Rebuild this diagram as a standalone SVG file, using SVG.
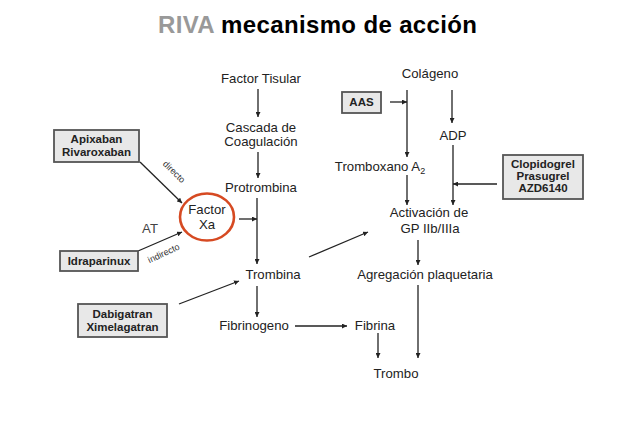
<svg xmlns="http://www.w3.org/2000/svg" width="638" height="426" viewBox="0 0 638 426">
<defs>
<marker id="ah" viewBox="0 0 10 10" refX="10" refY="5" markerWidth="5" markerHeight="5" orient="auto" markerUnits="userSpaceOnUse">
<path d="M0,0 L10,5 L0,10 z" fill="#222"/>
</marker>
</defs>
<style>
.t{font-family:"Liberation Sans",Arial,sans-serif;font-size:13.2px;fill:#222;text-anchor:middle}
.b{font-family:"Liberation Sans",Arial,sans-serif;font-size:11.5px;font-weight:bold;fill:#222;text-anchor:middle}
.s{font-family:"Liberation Sans",Arial,sans-serif;font-size:9px;fill:#333;text-anchor:middle}
.box{fill:#e8e8e8;stroke:#555;stroke-width:1.8}
.c line,.c path{stroke:#222;stroke-width:1.3;fill:none}
.a{marker-end:url(#ah)}
</style>
<rect width="638" height="426" fill="#fff"/>
<text x="158" y="33" font-family="Liberation Sans,Arial,sans-serif" font-size="24" font-weight="bold" fill="#000" textLength="319" lengthAdjust="spacing"><tspan fill="#999">RIVA</tspan> mecanismo de acción</text>

<g class="c" id="connectors">
<line class="a" x1="258" y1="89" x2="258" y2="117"/>
<line class="a" x1="258" y1="152" x2="258" y2="178"/>
<line class="a" x1="257" y1="198" x2="257" y2="264"/>
<line class="a" x1="239" y1="219" x2="257" y2="219"/>
<line class="a" x1="140" y1="162" x2="182" y2="203"/>
<line class="a" x1="138" y1="251" x2="182" y2="232"/>
<line class="a" x1="179" y1="304" x2="239" y2="281"/>
<line class="a" x1="257" y1="286" x2="257" y2="317"/>
<line class="a" x1="295" y1="326" x2="347" y2="326"/>
<line class="a" x1="378" y1="333" x2="378" y2="358"/>
<line class="a" x1="407" y1="90" x2="407" y2="157"/>
<line class="a" x1="390" y1="102" x2="407" y2="102"/>
<line class="a" x1="452" y1="90" x2="452" y2="123"/>
<line class="a" x1="407" y1="175" x2="407" y2="205"/>
<line class="a" x1="453" y1="145" x2="453" y2="205"/>
<line class="a" x1="497" y1="184" x2="453" y2="184"/>
<line class="a" x1="309" y1="257" x2="368" y2="232"/>
<line class="a" x1="418" y1="240" x2="418" y2="265"/>
<line class="a" x1="418" y1="285" x2="418" y2="358"/>
</g>

<g id="factor-tisular"><text class="t" x="261" y="83">Factor Tisular</text></g>
<g id="cascada"><text class="t" x="261" y="132">Cascada de</text><text class="t" x="261" y="146">Coagulación</text></g>
<g id="protrombina"><text class="t" x="261" y="192">Protrombina</text></g>
<g id="factor-xa">
<ellipse cx="207" cy="217" rx="27" ry="23.5" fill="none" stroke="#d64a22" stroke-width="2.6"/>
<text class="t" x="207" y="214">Factor</text><text class="t" x="207" y="229">Xa</text>
</g>
<g id="trombina"><text class="t" x="273" y="279">Trombina</text></g>
<g id="fibrinogeno"><text class="t" x="254" y="330">Fibrinogeno</text></g>
<g id="fibrina"><text class="t" x="375" y="330">Fibrina</text></g>
<g id="trombo"><text class="t" x="396" y="378">Trombo</text></g>

<g id="apixaban">
<rect class="box" x="54" y="130" width="85" height="32"/>
<text class="b" x="96.5" y="143">Apixaban</text><text class="b" x="96.5" y="156">Rivaroxaban</text>
</g>
<text class="s" transform="translate(172,174) rotate(44)">directo</text>
<g id="idraparinux">
<rect class="box" x="60" y="251" width="78" height="20"/>
<text class="b" x="99" y="265">Idraparinux</text>
</g>
<text class="t" x="150" y="233" style="fill:#444">AT</text>
<text class="s" transform="translate(165,256) rotate(-25)">indirecto</text>
<g id="dabigatran">
<rect class="box" x="78" y="304" width="89" height="33"/>
<text class="b" x="122.5" y="318">Dabigatran</text><text class="b" x="122.5" y="331">Ximelagatran</text>
</g>

<g id="colageno"><text class="t" x="430" y="78">Colágeno</text></g>
<g id="aas">
<rect class="box" x="342" y="92" width="39" height="21"/>
<text class="b" x="361.5" y="106">AAS</text>
</g>
<g id="adp"><text class="t" x="453" y="140">ADP</text></g>
<g id="tromboxano"><text class="t" x="380" y="171">Tromboxano A<tspan dy="3" font-size="9">2</tspan></text></g>
<g id="clopidogrel">
<rect class="box" x="503" y="155" width="80" height="44"/>
<text class="b" x="543" y="168">Clopidogrel</text><text class="b" x="543" y="180">Prasugrel</text><text class="b" x="543" y="192">AZD6140</text>
</g>
<g id="activacion"><text class="t" x="429" y="217">Activación de</text><text class="t" x="430" y="233">GP IIb/IIIa</text></g>
<g id="agregacion"><text class="t" x="425" y="279">Agregación plaquetaria</text></g>
</svg>
